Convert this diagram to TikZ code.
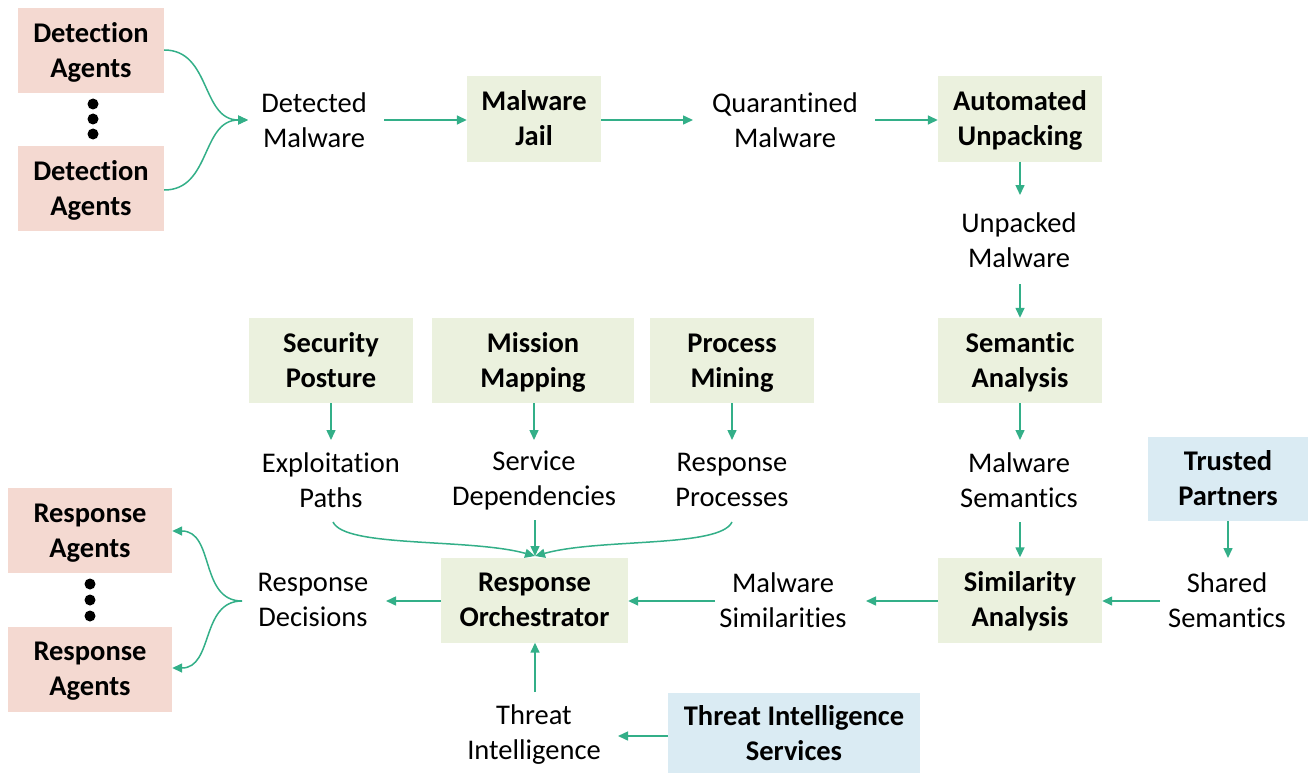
\documentclass[tikz,border=0pt]{standalone}
\usepackage{fontspec}
\setmainfont[Ligatures=NoCommon]{Carlito}
\usetikzlibrary{arrows.meta}
\definecolor{pinkc}{HTML}{F4D9D1}
\definecolor{greenc}{HTML}{EBF1DE}
\definecolor{bluec}{HTML}{DAEBF3}
\definecolor{arrc}{HTML}{33AF88}
\tikzset{
  box/.style={inner sep=0pt, align=center, text height=60pt, text depth=6.6pt, font=\fontsize{28.5}{35}\selectfont\bfseries},
  pinkbox/.style={box, fill=pinkc, minimum width=146pt, minimum height=85pt},
  greenbox/.style={box, fill=greenc, minimum height=85pt},
  bluebox/.style={box, fill=bluec},
  lbl/.style={inner sep=0pt, align=center, font=\fontsize{28.5}{35}\selectfont},
  arr/.style={draw=arrc, line width=1.5pt, -{Triangle[length=10pt,width=9pt]}},
  dot/.style={circle, fill=black, inner sep=0pt, minimum size=11pt}
}
\begin{document}
\begin{tikzpicture}[x=1pt,y=-1pt]
\useasboundingbox (0,0) rectangle (1308,773);
% top row
\node[pinkbox] (da1) at (91,50.5) {Detection\\Agents};
\node[pinkbox] (da2) at (91,188.5) {Detection\\Agents};
\node[dot] (d1) at (93,104) {};
\node[dot] (d2) at (93,119) {};
\node[dot] (d3) at (93,134) {};
\node[lbl] (dm) at (314,120) {Detected\\Malware};
\node[greenbox, minimum width=134pt] (mj) at (534,119) {Malware\\Jail};
\node[lbl] (qm) at (785,120) {Quarantined\\Malware};
\node[greenbox, minimum width=164pt] (au) at (1020,119) {Automated\\Unpacking};
\node[lbl] (um) at (1019,240) {Unpacked\\Malware};
\node[greenbox, minimum width=164pt] (sa) at (1020,360.5) {Semantic\\Analysis};
\node[lbl] (ms) at (1019,480) {Malware\\Semantics};
\node[greenbox, minimum width=164pt] (sim) at (1020,600) {Similarity\\Analysis};
\node[bluebox, minimum width=161pt, minimum height=84pt] (tp) at (1228,479) {Trusted\\Partners};
\node[lbl] (ss) at (1227,600) {Shared\\Semantics};
\node[lbl] (msim) at (783,600) {Malware\\Similarities};
\node[greenbox, minimum width=187pt] (ro) at (534.5,600) {Response\\Orchestrator};
\node[lbl] (rd) at (313,600) {Response\\Decisions};
\node[pinkbox, minimum width=164pt] (ra1) at (90,530.5) {Response\\Agents};
\node[pinkbox, minimum width=164pt] (ra2) at (90,669) {Response\\Agents};
\node[dot] (e1) at (90,584) {};
\node[dot] (e2) at (90,600) {};
\node[dot] (e3) at (90,616) {};
\node[lbl] (ti) at (534,735) {Threat\\Intelligence};
\node[bluebox, minimum width=252pt, minimum height=82pt] (tis) at (794,734) {Threat Intelligence\\Services};
\node[greenbox, minimum width=164pt] (sp) at (331,360.5) {Security\\Posture};
\node[greenbox, minimum width=202pt] (mm) at (533,360.5) {Mission\\Mapping};
\node[greenbox, minimum width=164pt] (pm) at (732,360.5) {Process\\Mining};
\node[lbl] (ep) at (331,480) {Exploitation\\Paths};
\node[lbl] (sd) at (534,480) {Service\\Dependencies};
\node[lbl] (rp) at (732,480) {Response\\Processes};
\coordinate (dmin) at (248,120);
\coordinate (roin) at (535,556);
\coordinate (rdout) at (242,601);
% arrows
\draw[arr] (da1.east |- 0,50) to[out=0,in=180,looseness=1.1] (dmin);
\draw[arr] (da2.east |- 0,190) to[out=0,in=180,looseness=1.1] (dmin);
\draw[arr] (384,120) -- (mj.west |- 0,120);
\draw[arr] (mj.east |- 0,120) -- (693,120);
\draw[arr] (875,120) -- (au.west |- 0,120);
\draw[arr] (au.south -| 1020,0) -- (1020,195);
\draw[arr] (1020,284) -- (sa.north -| 1020,0);
\draw[arr] (sa.south -| 1020,0) -- (1020,440);
\draw[arr] (1020,522) -- (sim.north -| 1020,0);
\draw[arr] (tp.south -| 1228,0) -- (1228,558);
\draw[arr] (1160,601) -- (sim.east |- 0,601);
\draw[arr] (sim.west |- 0,601) -- (866,601);
\draw[arr] (715,601) -- (ro.east |- 0,601);
\draw[arr] (ro.west |- 0,601) -- (386,601);
\draw[arr] (rdout) to[out=180,in=0,looseness=1.1] (ra1.east |- 0,531);
\draw[arr] (rdout) to[out=180,in=0,looseness=1.1] (ra2.east |- 0,668);
\draw[arr] (tis.west |- 0,736) -- (618,736);
\draw[arr] (535,692) -- (ro.south -| 535,0);
\draw[arr] (sp.south -| 331,0) -- (331,440);
\draw[arr] (mm.south -| 534,0) -- (534,440);
\draw[arr] (pm.south -| 732,0) -- (732,440);
\draw[arr] (333,522) .. controls (345,548) and (470,538) .. (roin);
\draw[arr] (535,520) -- (roin);
\draw[arr] (732,522) .. controls (720,548) and (600,538) .. (roin);
\end{tikzpicture}
\end{document}
